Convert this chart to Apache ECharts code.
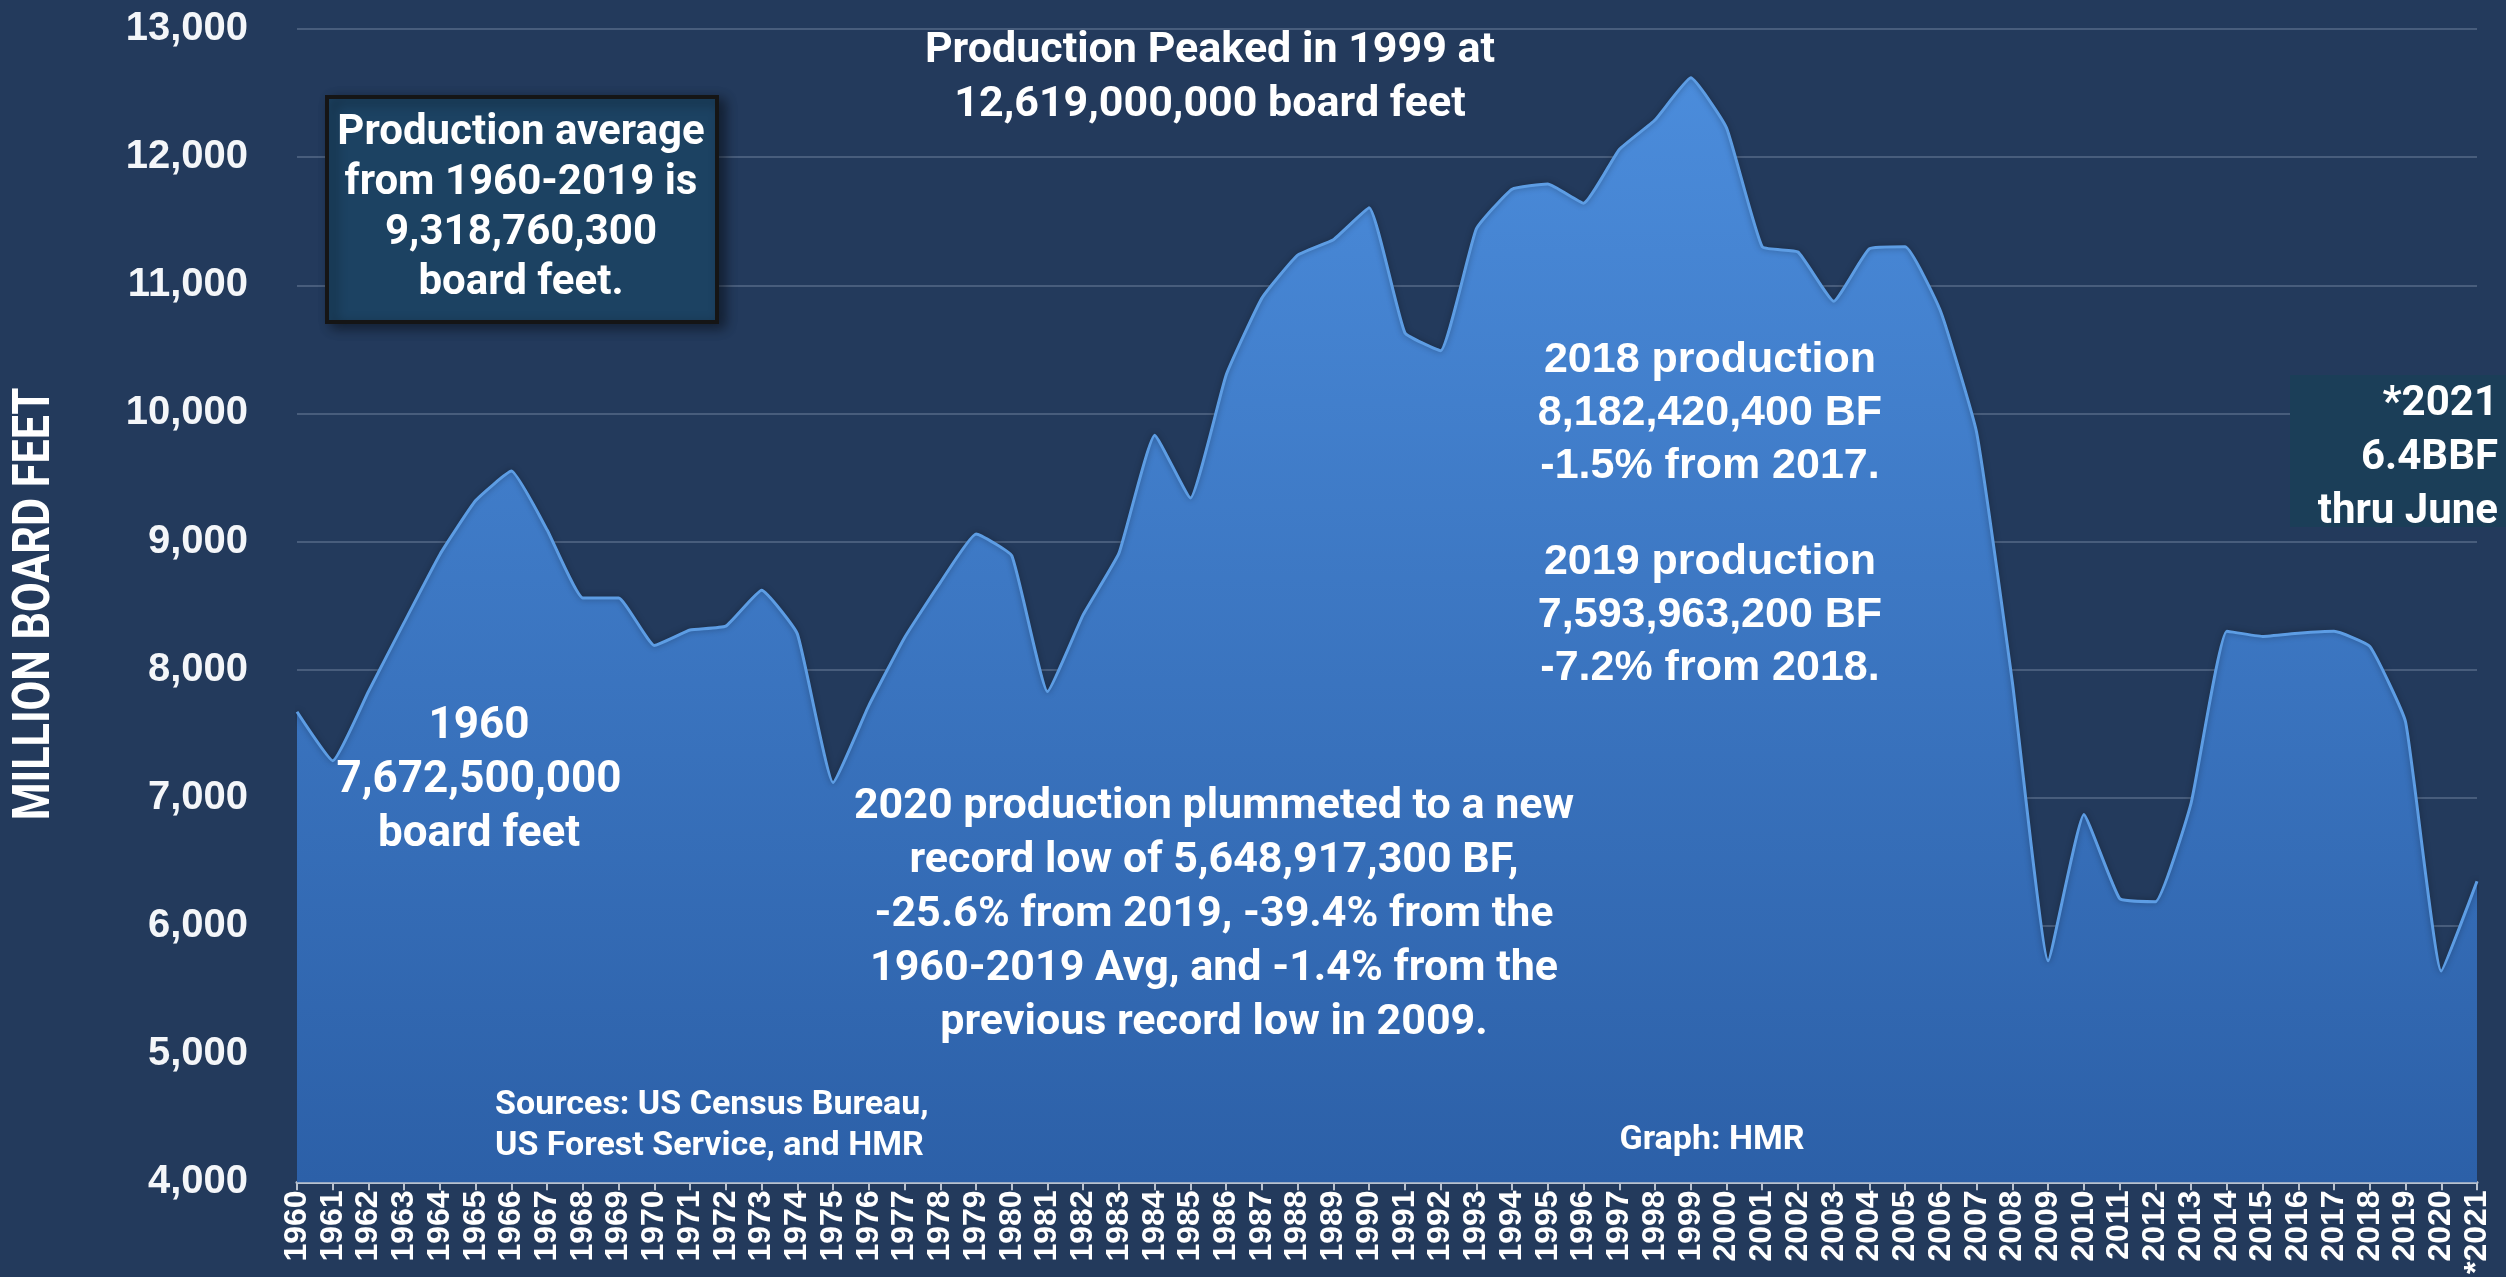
<!DOCTYPE html>
<html>
<head>
<meta charset="utf-8">
<script src="https://cdn.jsdelivr.net/npm/echarts@6/dist/echarts.min.js"></script>
<style>
  html, body { margin: 0; padding: 0; background: #233a5c; }
  #chart { width: 2506px; height: 1277px; }
</style>
</head>
<body>
<div id="chart"></div>
<script>
// year labels (last one is partial year)
const years = [
  "1960","1961","1962","1963","1964","1965","1966","1967","1968","1969",
  "1970","1971","1972","1973","1974","1975","1976","1977","1978","1979",
  "1980","1981","1982","1983","1984","1985","1986","1987","1988","1989",
  "1990","1991","1992","1993","1994","1995","1996","1997","1998","1999",
  "2000","2001","2002","2003","2004","2005","2006","2007","2008","2009",
  "2010","2011","2012","2013","2014","2015","2016","2017","2018","2019",
  "2020","*2021"
];

// million board feet
const production = [
  7672.5, 7290, 7830, 8370, 8900, 9320, 9550, 9090, 8560, 8560,
  8190, 8310, 8340, 8620, 8280, 7120, 7720, 8250, 8680, 9060,
  8890, 7830, 8430, 8910, 9830, 9340, 10300, 10900, 11235, 11356,
  11605, 10630, 10490, 11440, 11750, 11790, 11640, 12060, 12290, 12619,
  12229, 11300, 11260, 10875, 11285, 11300, 10790, 9850, 7900, 5729,
  6870, 6215, 6190, 6960, 8300, 8260, 8285, 8300, 8182, 7594,
  5649, 6350
];

const yMin = 4000;
const yMax = 13000;
const yStep = 1000;

const COND = 'Roboto, "Noto Sans", sans-serif';
const WIDE = '"Liberation Sans", Arial, sans-serif';

const yTitle = "MILLION BOARD FEET";

const notes = {
  peak: "Production Peaked in 1999 at\n12,619,000,000 board feet",
  avg: "Production average\nfrom 1960-2019 is\n9,318,760,300\nboard feet.",
  start: "1960\n7,672,500,000\nboard feet",
  low2020: "2020 production plummeted to a new\nrecord low of 5,648,917,300 BF,\n-25.6% from 2019, -39.4% from the\n1960-2019 Avg, and -1.4% from the\nprevious record low in 2009.",
  y2018: "2018 production\n8,182,420,400 BF\n-1.5% from 2017.",
  y2019: "2019 production\n7,593,963,200 BF\n-7.2% from 2018.",
  y2021: "*2021\n6.4BBF\nthru June",
  sources: "Sources: US Census Bureau,\nUS Forest Service, and HMR",
  graph: "Graph: HMR"
};

function txt(x, y, text, font, align, lineHeight){
  return {
    type: "text", x: x, y: y, z: 10,
    style: {
      text: text, fill: "#ffffff", font: font,
      align: align || "center", verticalAlign: "middle",
      lineHeight: lineHeight
    }
  };
}

const chart = echarts.init(document.getElementById("chart"));

chart.setOption({
  backgroundColor: "#233a5c",
  animation: false,
  grid: { left: 297, right: 29, top: 29, bottom: 94 },
  xAxis: {
    type: "category",
    data: years,
    boundaryGap: false,
    axisLine: { lineStyle: { color: "#b9c2cf", width: 3 } },
    axisTick: { show: true, length: 8, lineStyle: { color: "#b9c2cf", width: 2 } },
    axisLabel: {
      interval: 0, rotate: 90, margin: 8,
      color: "#ffffff", fontWeight: "bold", fontSize: 32, fontFamily: WIDE
    }
  },
  yAxis: {
    type: "value",
    min: yMin, max: yMax, interval: yStep,
    axisLine: { show: false },
    axisTick: { show: false },
    axisLabel: {
      margin: 49, color: "#f4f6f9", fontWeight: "bold", fontSize: 40, fontFamily: WIDE,
      formatter: v => v.toLocaleString("en-US")
    },
    splitLine: { lineStyle: { color: "rgba(170,185,210,0.28)", width: 2 } }
  },
  series: [{
    type: "line",
    data: production,
    symbol: "none",
    smooth: 0.12,
    lineStyle: { color: "#5d9de4", width: 3, shadowColor: "rgba(0,0,0,0.35)", shadowBlur: 6 },
    areaStyle: {
      opacity: 1,
      color: {
        type: "linear", x: 0, y: 0, x2: 0, y2: 1,
        colorStops: [
          { offset: 0, color: "#4b8cdb" },
          { offset: 1, color: "#2c60a8" }
        ]
      }
    }
  }],
  graphic: [
    // y axis title, condensed by squeezing along the text direction
    {
      type: "text", x: 36, y: 604, z: 10,
      rotation: Math.PI / 2, scaleX: 0.83,
      style: {
        text: yTitle, fill: "#ffffff", font: "bold 52px " + COND,
        align: "center", verticalAlign: "middle"
      }
    },
    {
      type: "rect", z: 9,
      shape: { x: 327, y: 97, width: 390, height: 225 },
      style: {
        fill: "#1c4262", stroke: "#151515", lineWidth: 4,
        shadowColor: "rgba(0,0,0,0.45)", shadowBlur: 12, shadowOffsetX: 6, shadowOffsetY: 4
      }
    },
    {
      type: "rect", z: 9,
      shape: { x: 2290, y: 375, width: 216, height: 152 },
      style: { fill: "#1b3e58" }
    },
    txt(521, 208, notes.avg, "bold 42px " + COND, "center", 50),
    txt(1210, 78, notes.peak, "bold 43px " + COND, "center", 54),
    txt(479, 781, notes.start, "bold 44px " + COND, "center", 54),
    txt(1214, 915, notes.low2020, "bold 43px " + COND, "center", 54),
    txt(1710, 413, notes.y2018, "bold 43px " + WIDE, "center", 53),
    txt(1710, 615, notes.y2019, "bold 43px " + WIDE, "center", 53),
    txt(2498, 458, notes.y2021, "bold 42px " + COND, "right", 54),
    txt(495, 1126, notes.sources, "bold 34px " + COND, "left", 41),
    txt(1712, 1140, notes.graph, "bold 34px " + COND, "center", 41)
  ]
});

window.addEventListener("resize", () => chart.resize());
</script>
</body>
</html>
